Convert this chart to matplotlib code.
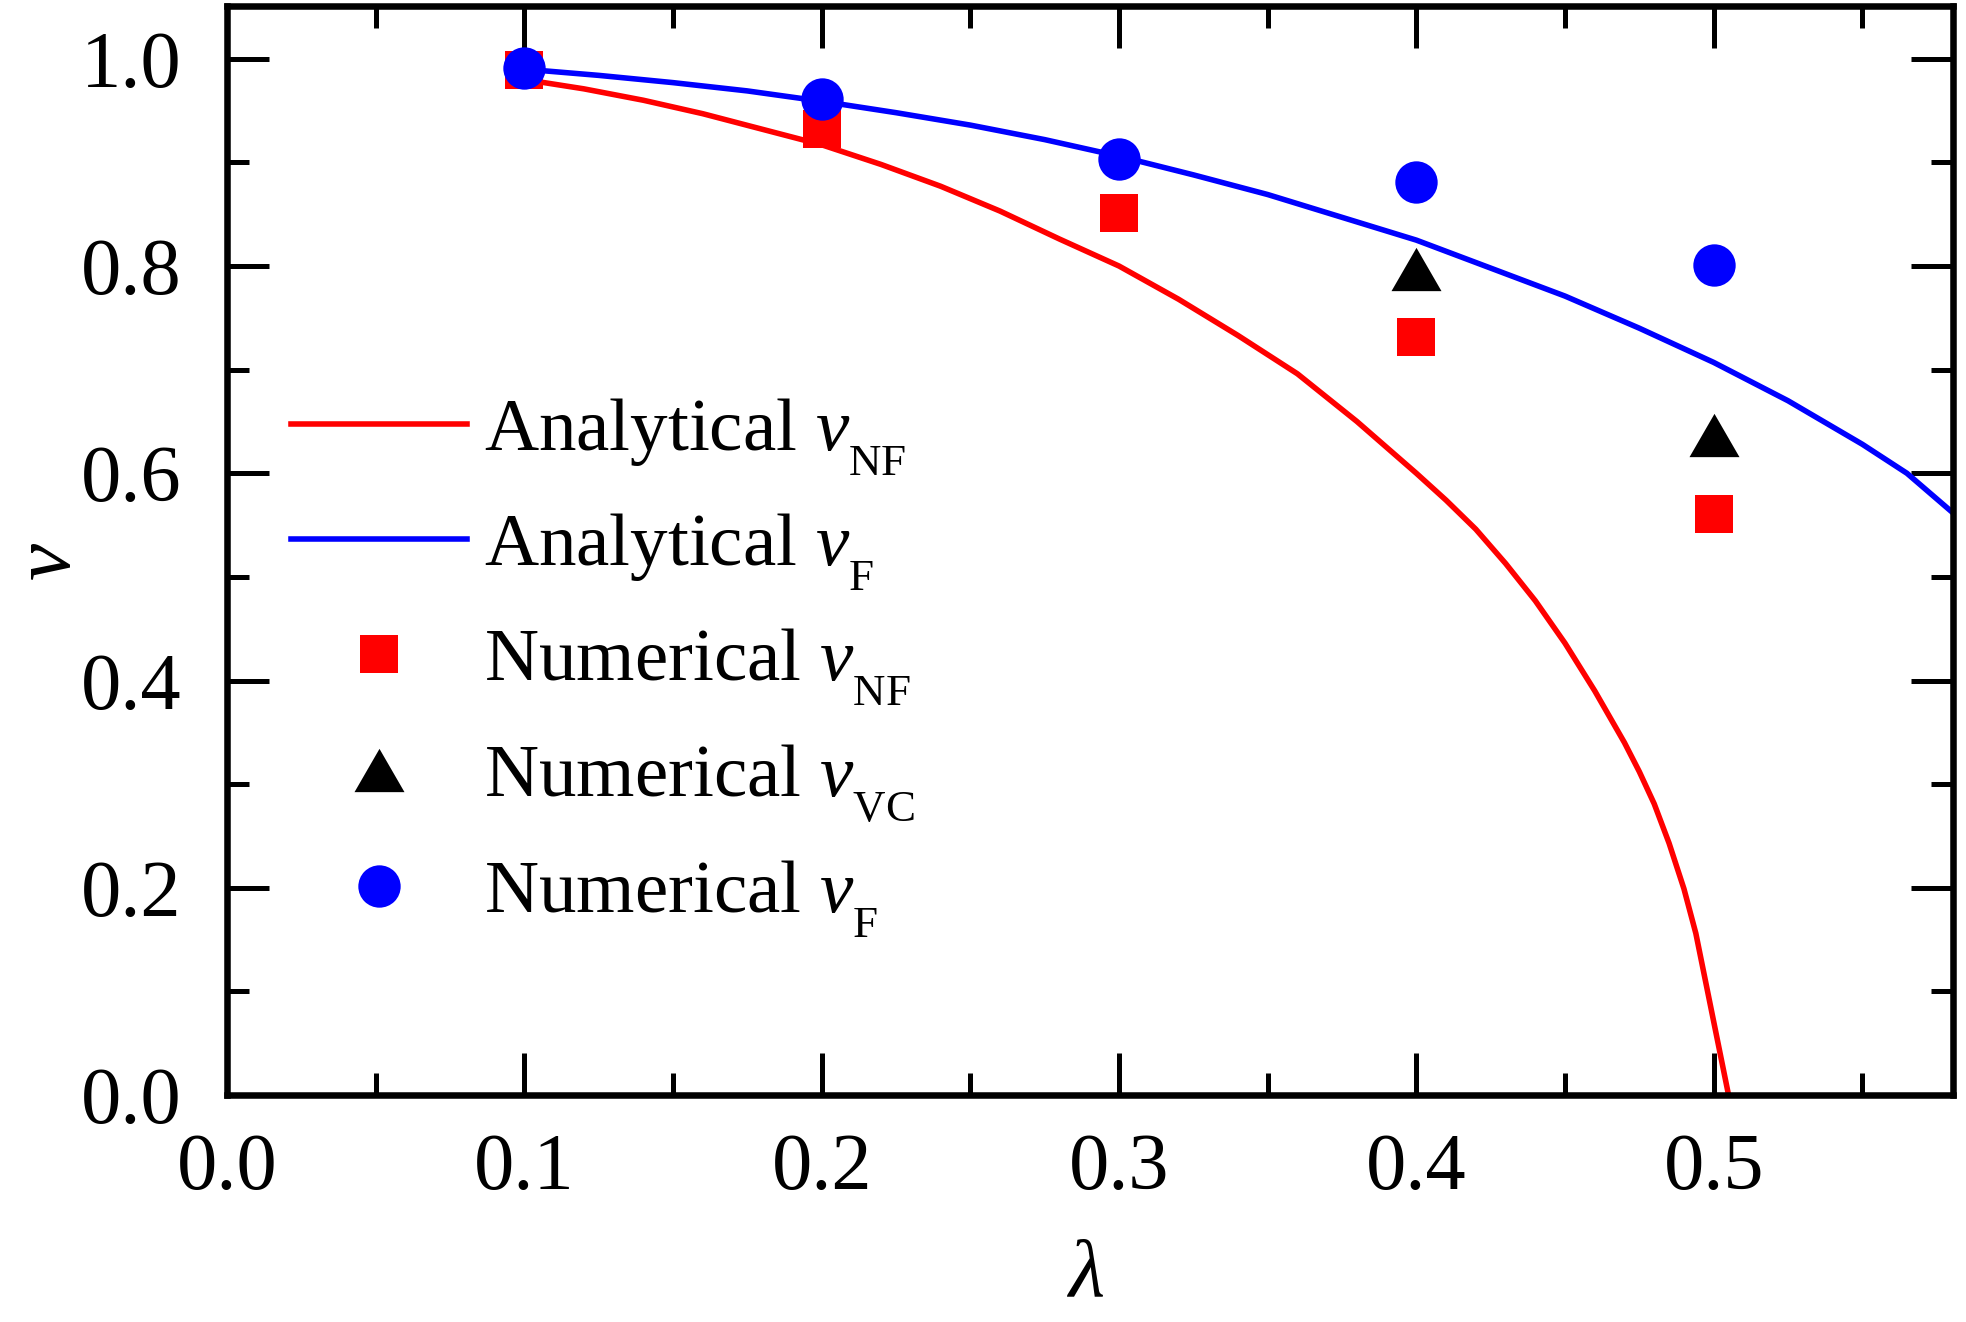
import matplotlib
matplotlib.use("Agg")
import matplotlib.pyplot as plt
from matplotlib.path import Path
from matplotlib.ticker import MultipleLocator, FormatStrFormatter
import matplotlib._mathtext as _mt

# subscripts: slightly smaller and dropped lower, as in the reference
_mt.SHRINK_FACTOR = 0.6
_mt.FontConstantsBase.sub1 = 0.75

plt.rcParams['font.family'] = ['Liberation Serif', 'DejaVu Serif']
plt.rcParams['mathtext.fontset'] = 'custom'
plt.rcParams['mathtext.rm'] = 'Liberation Serif'
plt.rcParams['mathtext.it'] = 'Liberation Serif:italic'

# ---- data ----
lam_nf_curve = [0.10, 0.12, 0.14, 0.16, 0.18, 0.20, 0.22, 0.24, 0.26, 0.28, 0.30,
                0.32, 0.34, 0.36, 0.38, 0.40, 0.41, 0.42, 0.43, 0.44, 0.45, 0.46,
                0.47, 0.475, 0.48, 0.485, 0.49, 0.494, 0.505]
v_nf_curve = [0.980, 0.971, 0.960, 0.947, 0.932, 0.917, 0.898, 0.877, 0.853, 0.826, 0.800,
              0.768, 0.733, 0.696, 0.650, 0.600, 0.574, 0.546, 0.513, 0.477, 0.436, 0.390,
              0.340, 0.312, 0.281, 0.243, 0.199, 0.156, 0.0]

lam_f_curve = [0.10, 0.125, 0.15, 0.175, 0.20, 0.225, 0.25, 0.275, 0.30, 0.325, 0.35,
               0.375, 0.40, 0.425, 0.45, 0.475, 0.50, 0.525, 0.55, 0.565, 0.58]
v_f_curve = [0.990, 0.984, 0.977, 0.969, 0.959, 0.948, 0.936, 0.922, 0.906, 0.888, 0.869,
             0.847, 0.825, 0.798, 0.771, 0.740, 0.707, 0.670, 0.628, 0.600, 0.563]

lam_num = [0.1, 0.2, 0.3, 0.4, 0.5]
v_nf_num = [0.989, 0.932, 0.851, 0.732, 0.561]
v_f_num = [0.991, 0.961, 0.903, 0.881, 0.801]
lam_vc = [0.4, 0.5]
v_vc_num = [0.797, 0.637]

xticks = [0.0, 0.1, 0.2, 0.3, 0.4, 0.5]
yticks = [0.0, 0.2, 0.4, 0.6, 0.8, 1.0]

labels = [r'Analytical $v_{\mathrm{NF}}$', r'Analytical $v_{\mathrm{F}}$',
          r'Numerical $v_{\mathrm{NF}}$', r'Numerical $v_{\mathrm{VC}}$',
          r'Numerical $v_{\mathrm{F}}$']

# triangle marker with equilateral-like aspect
tri = Path([(-1.0, -0.866), (1.0, -0.866), (0.0, 0.866), (-1.0, -0.866)],
           [Path.MOVETO, Path.LINETO, Path.LINETO, Path.CLOSEPOLY])

fig = plt.figure(figsize=(19.66, 13.22), dpi=100)
ax = fig.add_axes([0.1155, 0.1717, 0.8779, 0.8238])

ax.plot(lam_nf_curve, v_nf_curve, color='#ff0000', lw=4.0, label=labels[0], zorder=2)
ax.plot(lam_f_curve, v_f_curve, color='#0000ff', lw=4.0, label=labels[1], zorder=2)
ax.plot(lam_num, v_nf_num, ls='none', marker='s', ms=27.5, mew=0,
        color='#ff0000', label=labels[2], zorder=3)
ax.plot(lam_vc, v_vc_num, ls='none', marker=tri, ms=36, mew=0,
        color='black', label=labels[3], zorder=3)
ax.plot(lam_num, v_f_num, ls='none', marker='o', ms=30.5, mew=0,
        color='#0000ff', label=labels[4], zorder=4)

ax.set_xlim(0, 0.5805)
ax.set_ylim(0, 1.051)
ax.set_xticks(xticks)
ax.set_yticks(yticks)
ax.xaxis.set_major_formatter(FormatStrFormatter('%.1f'))
ax.yaxis.set_major_formatter(FormatStrFormatter('%.1f'))
ax.xaxis.set_minor_locator(MultipleLocator(0.05))
ax.yaxis.set_minor_locator(MultipleLocator(0.1))

for s in ax.spines.values():
    s.set_linewidth(4.7)
ax.tick_params(which='both', direction='in', top=True, right=True, width=3.6,
               labelsize=58)
ax.tick_params(which='major', length=30)
ax.tick_params(which='minor', length=16)
ax.tick_params(axis='x', which='major', pad=27)
ax.tick_params(axis='y', which='major', pad=33)

ax.set_xlabel(r'$\lambda$', fontsize=60)
ax.set_ylabel(r'$v$', fontsize=60, va='center')
ax.xaxis.set_label_coords(0.497, -0.133)
ax.yaxis.set_label_coords(-0.1025, 0.49)

leg = ax.legend(loc='center left', bbox_to_anchor=(0.0371, 0.392), frameon=False,
                fontsize=54, numpoints=1, handlelength=2.35, handletextpad=0.22,
                labelspacing=0.45, borderpad=0, borderaxespad=0)

fig.savefig('out.png', dpi=100)
